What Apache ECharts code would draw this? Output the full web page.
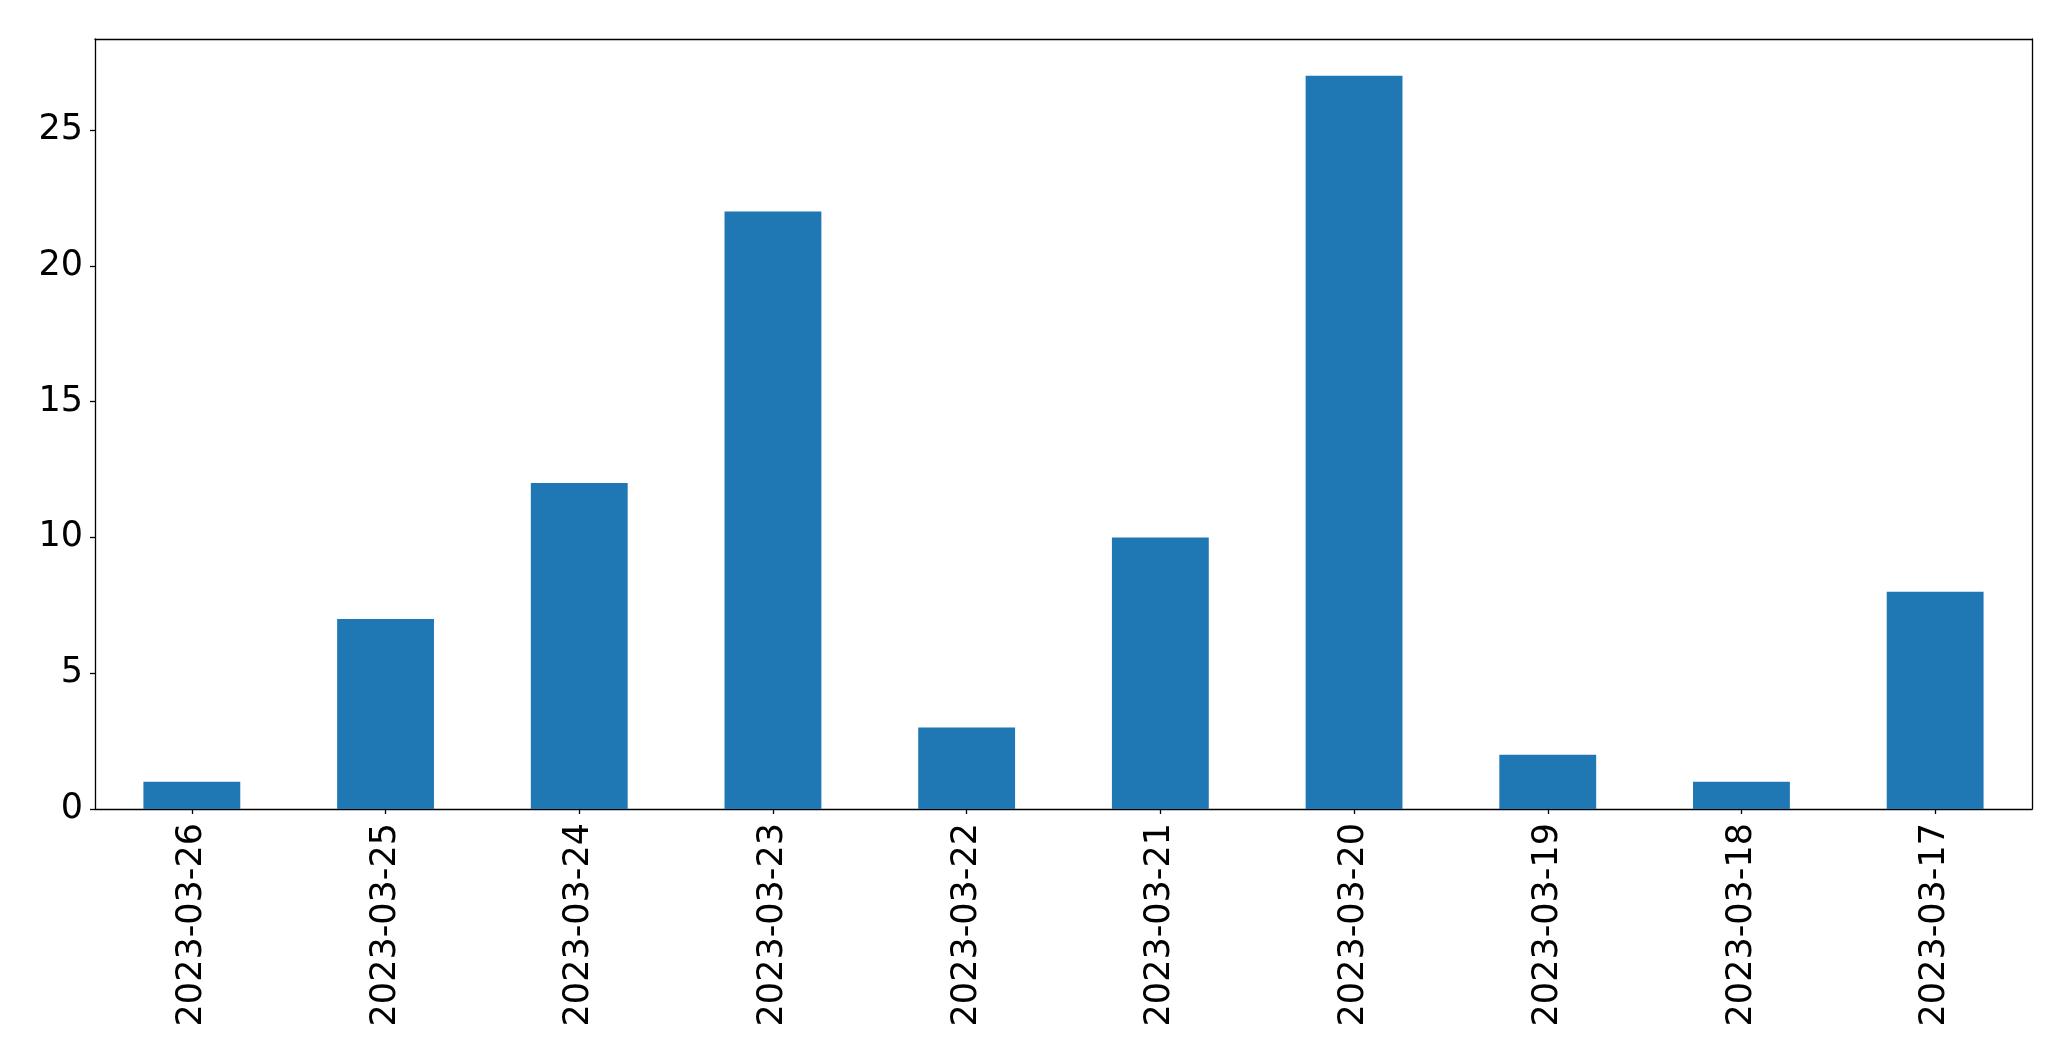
<!DOCTYPE html>
<html>
<head>
<meta charset="utf-8">
<script src="https://cdn.jsdelivr.net/npm/echarts@6/dist/echarts.min.js"></script>
<style>
html,body{margin:0;padding:0;background:#fff;}
#chart{width:2071px;height:1061px;}
</style>
</head>
<body>
<div id="chart"></div>
<script>
const categories = ['2023-03-26','2023-03-25','2023-03-24','2023-03-23','2023-03-22','2023-03-21','2023-03-20','2023-03-19','2023-03-18','2023-03-17'];
const values = [1, 7, 12, 22, 3, 10, 27, 2, 1, 8];
const yTicks = [0, 5, 10, 15, 20, 25];

const chart = echarts.init(document.getElementById('chart'), null, {renderer: 'canvas'});
const font = 'DejaVu Sans';
const yMax = Math.max(...values) * 1.05;
chart.setOption({
  animation: false,
  backgroundColor: '#ffffff',
  grid: {left: 95, top: 39, right: 39, bottom: 252, containLabel: false},
  xAxis: [{
    type: 'category',
    data: categories,
    position: 'bottom',
    axisLine: {show: true, lineStyle: {color: '#000', width: 1.3}},
    axisTick: {show: true, alignWithLabel: true, length: 5, lineStyle: {color: '#000', width: 1.3}},
    axisLabel: {rotate: 90, fontSize: 35, fontFamily: font, color: '#000', margin: 14, interval: 0},
    splitLine: {show: false}
  }, {
    type: 'category',
    data: categories,
    position: 'top',
    axisLine: {show: true, onZero: false, lineStyle: {color: '#000', width: 1.3}},
    axisTick: {show: false},
    axisLabel: {show: false},
    splitLine: {show: false}
  }],
  yAxis: [{
    type: 'value',
    min: 0,
    max: yMax,
    position: 'left',
    axisLine: {show: true, lineStyle: {color: '#000', width: 1.3}},
    axisTick: {show: true, length: 5, lineStyle: {color: '#000', width: 1.3}, customValues: yTicks},
    axisLabel: {fontSize: 35, fontFamily: font, color: '#000', margin: 12, customValues: yTicks},
    splitLine: {show: false}
  }, {
    type: 'value',
    min: 0,
    max: yMax,
    position: 'right',
    axisLine: {show: true, lineStyle: {color: '#000', width: 1.3}},
    axisTick: {show: false},
    axisLabel: {show: false},
    splitLine: {show: false}
  }],
  series: [{
    type: 'bar',
    data: values,
    xAxisIndex: 0,
    yAxisIndex: 0,
    barWidth: '50%',
    itemStyle: {color: '#1f77b4'}
  }]
});
</script>
</body>
</html>
